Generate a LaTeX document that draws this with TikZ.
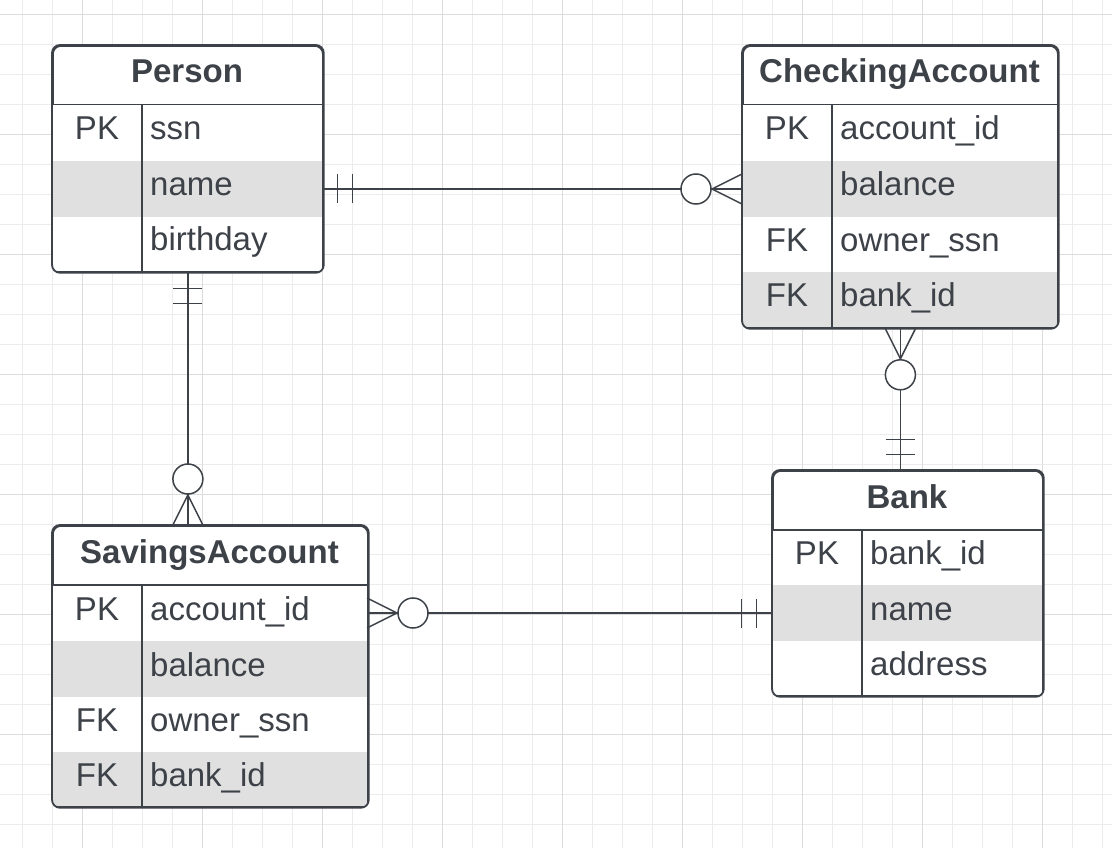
\documentclass[tikz,border=0pt]{standalone}
\usepackage{fontspec}
\setmainfont{Liberation Sans}
\usetikzlibrary{positioning,calc}
\definecolor{ink}{HTML}{3D4148}
\definecolor{rowgray}{HTML}{E0E0E0}
\definecolor{gridminor}{HTML}{ECECEC}
\definecolor{gridmajor}{HTML}{DCDCDC}
\tikzset{
  frame/.style={draw=ink, line width=1.8pt, rounded corners=8pt},
  band/.style={fill=#1, inner sep=0pt, outer sep=0pt, anchor=north west},
  title/.style={anchor=base, inner sep=0pt, text=ink, font=\fontsize{33}{39}\selectfont\bfseries},
  keytxt/.style={anchor=base, inner sep=0pt, text=ink},
  fieldtxt/.style={anchor=base west, inner sep=0pt, text=ink},
  conn/.style={draw=ink, line width=1.5pt},
  mandone/.pic={\draw[conn] (15.5,-14.5) -- (15.5,14.5) (30.5,-14.5) -- (30.5,14.5);},
  zeromany/.pic={\draw[conn] (0,-15) -- (30,0) -- (0,15);
    \draw[conn, fill=white] (46,0) circle[radius=15pt];}
}
\newcommand{\frameline}[1]{\draw[frame, fill=none] (#1.north west) rectangle (#1.south east);}

\begin{document}
\begin{tikzpicture}[x=1pt, y=-1pt, font=\fontsize{33}{39}\selectfont]
\useasboundingbox[fill=white] (0,0) rectangle (1112,848);
% grid
\foreach \x in {22.5,52.5,...,1102.5} \draw[gridminor] (\x,0) -- (\x,848);
\foreach \y in {14.5,44.5,...,844.5} \draw[gridminor] (0,\y) -- (1112,\y);
\foreach \x in {82.5,202.5,...,1042.5} \draw[gridmajor] (\x,0) -- (\x,848);
\foreach \y in {14.5,134.5,...,734.5} \draw[gridmajor] (0,\y) -- (1112,\y);

% Person
\node[frame, fill=white, minimum width=270, minimum height=226, anchor=north west] (person) at (52,45) {};
\begin{scope}
  \clip[rounded corners=8pt] (person.north west) rectangle (person.south east);
  \foreach \t/\b/\fc/\k/\f [count=\i] in {104.5/161/white/PK/ssn, 161/217/rowgray//name, 217/271/white//birthday} {
    \node[band=\fc, minimum width=270, minimum height=\b-\t] (person-r\i) at (52,\t) {};
    \node[keytxt] at (97,{(\t+\b)/2+7}) {\k};
    \node[fieldtxt] at (150,{(\t+\b)/2+7}) {\f};
  }
\end{scope}
\frameline{person}
\coordinate (person-col) at (142,45);
\draw[frame] (person-r1.north west) -- (person-r1.north east);
\draw[frame] (person-col |- person-r1.north) -- (person-col |- person.south);
\node[title] (person-title) at (187,82.5) {Person};

% CheckingAccount
\node[frame, fill=white, minimum width=315, minimum height=282, anchor=north west] (check) at (742,45) {};
\begin{scope}
  \clip[rounded corners=8pt] (check.north west) rectangle (check.south east);
  \foreach \t/\b/\fc/\k/\f [count=\i] in {104.5/161/white/PK/account\_id, 161/217/rowgray//balance, 217/272/white/FK/owner\_ssn, 272/327/rowgray/FK/bank\_id} {
    \node[band=\fc, minimum width=315, minimum height=\b-\t] (check-r\i) at (742,\t) {};
    \node[keytxt] at (787,{(\t+\b)/2+7}) {\k};
    \node[fieldtxt] at (840,{(\t+\b)/2+7}) {\f};
  }
\end{scope}
\frameline{check}
\coordinate (check-col) at (832,45);
\draw[frame] (check-r1.north west) -- (check-r1.north east);
\draw[frame] (check-col |- check-r1.north) -- (check-col |- check.south);
\node[title] (check-title) at (899.5,82.5) {CheckingAccount};

% SavingsAccount
\node[frame, fill=white, minimum width=315, minimum height=281, anchor=north west] (savings) at (52,525) {};
\begin{scope}
  \clip[rounded corners=8pt] (savings.north west) rectangle (savings.south east);
  \foreach \t/\b/\fc/\k/\f [count=\i] in {585/641/white/PK/account\_id, 641/697/rowgray//balance, 697/752/white/FK/owner\_ssn, 752/806/rowgray/FK/bank\_id} {
    \node[band=\fc, minimum width=315, minimum height=\b-\t] (sav-r\i) at (52,\t) {};
    \node[keytxt] at (97,{(\t+\b)/2+7}) {\k};
    \node[fieldtxt] at (150,{(\t+\b)/2+7}) {\f};
  }
\end{scope}
\frameline{savings}
\coordinate (sav-col) at (142,525);
\draw[frame] (sav-r1.north west) -- (sav-r1.north east);
\draw[frame] (sav-col |- sav-r1.north) -- (sav-col |- savings.south);
\node[title] (sav-title) at (209.5,563) {SavingsAccount};

% Bank
\node[frame, fill=white, minimum width=270, minimum height=225, anchor=north west] (bank) at (772,470) {};
\begin{scope}
  \clip[rounded corners=8pt] (bank.north west) rectangle (bank.south east);
  \foreach \t/\b/\fc/\k/\f [count=\i] in {530/585/white/PK/bank\_id, 585/641/rowgray//name, 641/695/white//address} {
    \node[band=\fc, minimum width=270, minimum height=\b-\t] (bank-r\i) at (772,\t) {};
    \node[keytxt] at (817,{(\t+\b)/2+7}) {\k};
    \node[fieldtxt] at (870,{(\t+\b)/2+7}) {\f};
  }
\end{scope}
\frameline{bank}
\coordinate (bank-col) at (862,470);
\draw[frame] (bank-r1.north west) -- (bank-r1.north east);
\draw[frame] (bank-col |- bank-r1.north) -- (bank-col |- bank.south);
\node[title] (bank-title) at (907,508) {Bank};

% relationships
\coordinate (sav-top) at (person.south |- savings.north);
\coordinate (bank-top) at (check.south |- bank.north);
\draw[conn] (person-r2.east) -- (check-r2.west);
\draw[conn] (person.south) -- (sav-top);
\draw[conn] (check.south) -- (bank-top);
\draw[conn] (sav-r1.east) -- (bank-r2.west);
\pic[rotate=0] at (person-r2.east) {mandone};
\pic[rotate=180] at (check-r2.west) {zeromany};
\pic[rotate=-90] at (person.south) {mandone};
\pic[rotate=90] at (sav-top) {zeromany};
\pic[rotate=-90] at (check.south) {zeromany};
\pic[rotate=90] at (bank-top) {mandone};
\pic[rotate=0] at (sav-r1.east) {zeromany};
\pic[rotate=180] at (bank-r2.west) {mandone};
\end{tikzpicture}
\end{document}
